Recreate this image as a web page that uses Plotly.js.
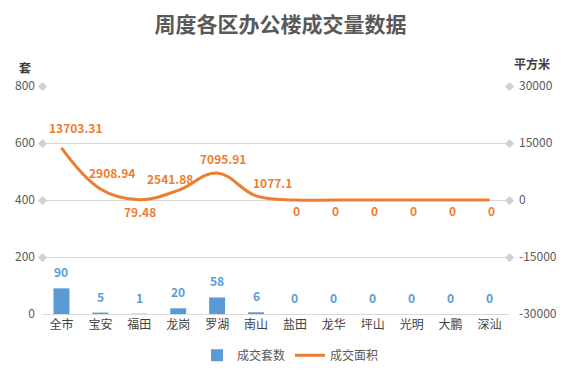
<!DOCTYPE html>
<html><head><meta charset="utf-8">
<script src="https://cdn.plot.ly/plotly-3.0.1.min.js"></script>
<style>body{margin:0;background:#fff}#c{width:581px;height:372px}</style>
</head><body><div id="c"></div>
<script>
const categories = ['全市','宝安','福田','龙岗','罗湖','南山','盐田','龙华','坪山','光明','大鹏','深汕'];
const units = [90,5,1,20,58,6,0,0,0,0,0,0];
const area = [13703.31,2908.94,79.48,2541.88,7095.91,1077.1,0,0,0,0,0,0];
const areaLabels = ['13703.31','2908.94','79.48','2541.88','7095.91','1077.1','0','0','0','0','0','0'];
const leftTicks = [0,200,400,600,800];
const rightTicks = [-30000,-15000,0,15000,30000];

const font = "'Noto Sans CJK SC', 'Noto Sans', sans-serif";
// label offsets (pixels) for line labels
const lblDx = [14,12,1,-8,6,16,2,2,2,2,2,2];
const lblDy = [20,16,-12,12,15,13,-10,-10,-10,-10,-10,-10];

const traces = [
  {type:'bar', name:'成交套数', x:categories, y:units, marker:{color:'#5b9bd5'}, width:0.41},
  {type:'scatter', mode:'lines', name:'成交面积', x:categories, y:area, yaxis:'y2',
   line:{color:'#ed7d31', width:3, shape:'spline', smoothing:1.1}}
];
const ann = [
  {xref:'paper', yref:'paper', x:-0.036, y:1.079, xanchor:'center', yanchor:'middle', text:'套', showarrow:false, font:{size:12, color:'#404040', family:font, weight:'bold'}},
  {xref:'paper', yref:'paper', x:1.05, y:1.10, xanchor:'center', yanchor:'middle', text:'平方米', showarrow:false, font:{size:12, color:'#404040', family:font, weight:'bold'}}
];
leftTicks.filter(v=>v>0).forEach(v=>{
  ann.push({xref:'paper', yref:'y', x:0, y:v, text:'◆', showarrow:false, xanchor:'center', yanchor:'middle', font:{size:9,color:'#d0d0d0'}});
});
rightTicks.filter(v=>v>-30000).forEach(v=>{
  ann.push({xref:'paper', yref:'y2', x:1, y:v, text:'◆', showarrow:false, xanchor:'center', yanchor:'middle', font:{size:9,color:'#d0d0d0'}});
});
categories.forEach((c,i)=>{
  ann.push({xref:'x', yref:'y', x:c, y:units[i], text:String(units[i]), showarrow:false, xanchor:'center', yanchor:'bottom', yshift:6,
    font:{size:12, color:'#5b9bd5', family:font, weight:'bold'}});
  ann.push({xref:'x', yref:'y2', x:c, y:area[i], text:areaLabels[i], showarrow:false, xanchor:'center', yanchor:'middle', xshift:lblDx[i], yshift:lblDy[i],
    font:{size:12, color:'#ed7d31', family:font, weight:'bold'}});
});
const layout = {
  width:581, height:372,
  margin:{l:42, r:72, t:86, b:58},
  paper_bgcolor:'#fff', plot_bgcolor:'#fff',
  font:{family:font, color:'#595959', size:12},
  title:{text:'周度各区办公楼成交量数据', x:0.483, xanchor:'center', xref:'container', y:0.935, yref:'container', yanchor:'middle',
         font:{size:21, color:'#595959', family:font, weight:'bold'}},
  showlegend:true,
  legend:{orientation:'h', x:0.5, xanchor:'center', xref:'container', yref:'container', y:0.045, yanchor:'middle', font:{size:12, color:'#595959'}},
  xaxis:{type:'category', showgrid:false, showline:true, linecolor:'#d9d9d9', ticks:'', tickfont:{size:12,color:'#404040'}, zeroline:false, automargin:false},
  yaxis:{range:[0,800], tickvals:leftTicks, showgrid:true, gridcolor:'#d9d9d9', zeroline:false, ticks:'', ticklabelstandoff:6, tickfont:{size:12,color:'#595959'}, automargin:false},
  yaxis2:{range:[-30000,30000], tickvals:rightTicks, ticktext:rightTicks.map(String), overlaying:'y', side:'right', showgrid:false, zeroline:false, ticks:'', ticklabelstandoff:9, tickfont:{size:12,color:'#595959'}, automargin:false},
  annotations:ann
};
Plotly.newPlot('c', traces, layout, {staticPlot:true, displayModeBar:false});
</script></body></html>
